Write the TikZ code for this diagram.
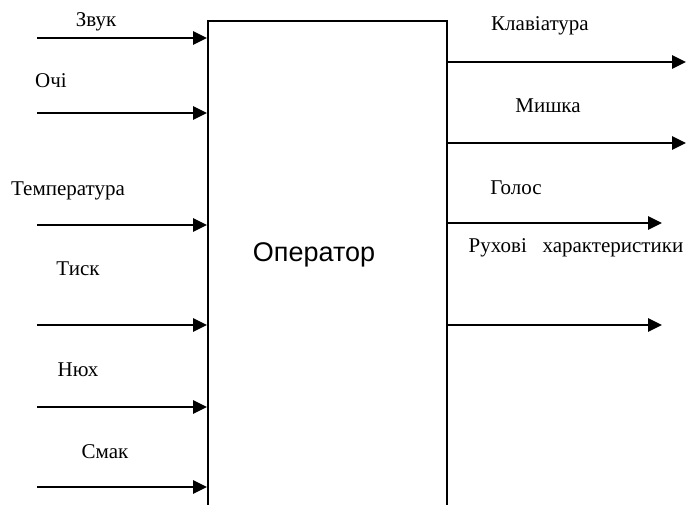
\documentclass[tikz,border=0pt]{standalone}
\usepackage{fontspec}
\setmainfont{Liberation Serif}
\newfontfamily\opfont{Liberation Sans}
\usetikzlibrary{arrows.meta}
\tikzset{
  lbl/.style={font=\fontsize{21}{25}\selectfont, inner sep=0pt},
  arr/.style={line width=2.6pt, -{Triangle[length=14pt,width=13pt]}}
}
\begin{document}
\begin{tikzpicture}[x=1pt, y=-1pt, line join=miter]
	\useasboundingbox (0,0) rectangle (686,504);
	\clip (0,0) rectangle (686,504);
	\node[draw, line width=2pt, minimum width=239pt, minimum height=520pt, anchor=north west, inner sep=0pt] (op) at (207,20) {};
	\node[font=\opfont\fontsize{27}{32}\selectfont, inner sep=0pt] (optxt) at (314,255) {Оператор};
	\coordinate (zvuk) at (37,38);
	\coordinate (ochi) at (37,113);
	\coordinate (temp) at (37,225);
	\coordinate (tysk) at (37,325);
	\coordinate (niukh) at (37,407);
	\coordinate (smak) at (37,487);
	\draw[arr] (zvuk) -- (zvuk -| op.west);
	\draw[arr] (ochi) -- (ochi -| op.west);
	\draw[arr] (temp) -- (temp -| op.west);
	\draw[arr] (tysk) -- (tysk -| op.west);
	\draw[arr] (niukh) -- (niukh -| op.west);
	\draw[arr] (smak) -- (smak -| op.west);
	\node[lbl] (zvukt) at (96,22) {Звук};
	\node[lbl] (ochit) at (51,81) {Очі};
	\node[lbl] (tempt) at (68,191) {Температура};
	\node[lbl] (tyskt) at (78,269) {Тиск};
	\node[lbl] (niukht) at (78,370) {Нюх};
	\node[lbl] (smakt) at (105,452) {Смак};
	\coordinate (klav) at (686,62);
	\coordinate (myshka) at (686,143);
	\coordinate (holos) at (662,223);
	\coordinate (rukh) at (662,325);
	\draw[arr] (klav -| op.east) -- (klav);
	\draw[arr] (myshka -| op.east) -- (myshka);
	\draw[arr] (holos -| op.east) -- (holos);
	\draw[arr] (rukh -| op.east) -- (rukh);
	\node[lbl] (klavt) at (540,26) {Клавіатура};
	\node[lbl] (myshkat) at (548,106) {Мишка};
	\node[lbl] (holost) at (516,188) {Голос};
	\node[lbl] (rukht) at (576,248) {Рухові\ \ \ характеристики};
\end{tikzpicture}
\end{document}
